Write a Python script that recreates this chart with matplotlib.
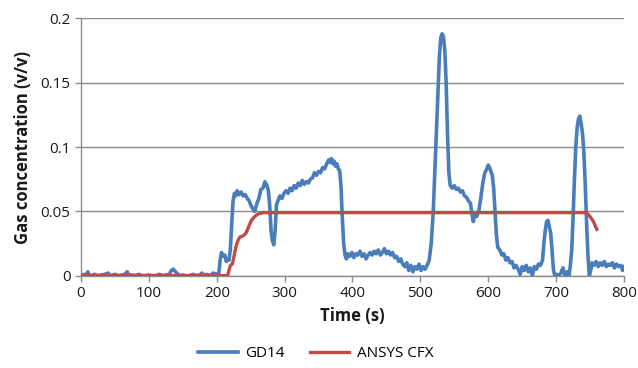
import matplotlib.pyplot as plt
from matplotlib.ticker import FuncFormatter

gd14_t = [
    0, 5, 8, 10, 12, 15, 20, 25, 30, 35, 40, 42, 45, 50, 55, 60, 65, 68, 70, 72,
    75, 80, 85, 90, 95, 100, 105, 110, 115, 120, 125, 130, 133, 136, 139, 142,
    145, 150, 155, 160, 165, 170, 175, 178, 181, 185, 190, 195, 200,
    203, 205, 207, 209, 212, 214, 216, 218, 220, 222, 224, 226, 228, 230, 233,
    236, 239, 242, 245, 248, 250, 253, 256, 259, 262, 265, 268, 271, 274, 276,
    278, 280, 282, 284, 286, 288, 290, 293, 296, 299, 302, 305, 308, 311, 314,
    317, 320, 323, 326, 329, 332, 335, 338, 341, 344, 347, 350, 353, 356, 359,
    362, 365, 367, 369, 371, 373, 375, 377, 379, 381, 383, 385, 387, 389, 391,
    393, 396, 399, 402, 405, 408, 411, 414, 417, 420, 423, 426, 429, 432, 435,
    438, 441, 444, 447, 450, 453, 456, 459, 462, 465, 468, 471, 474, 477, 480,
    483, 486, 489, 492, 495, 498, 501, 504, 507, 510, 513, 516, 519, 522, 525,
    528, 530, 532, 534, 536, 538, 540, 542, 544, 547, 550, 553, 556, 559, 562,
    565, 568, 571, 574, 576, 578, 580, 583, 586, 589, 592, 595, 598, 600, 602,
    604, 606, 608, 610, 612, 614, 617, 620, 623, 626, 629, 632, 635, 638, 641,
    644, 647, 650, 653, 656, 659, 662, 665, 668, 671, 674, 677, 680, 682, 684,
    686, 688, 690, 692, 694, 696, 698, 701, 704, 707, 710, 713, 716, 719, 721,
    723, 725, 727, 729, 731, 733, 735, 737, 739, 741, 743, 745, 747, 749, 751,
    753, 756, 759, 762, 765, 768, 771, 774, 777, 780, 783, 786, 789, 792, 795,
    798, 800,
]
gd14_v = [
    0, 0.001, 0.0005, 0.003, 0.0005, 0, 0.001, 0, 0.0005, 0.001, 0.002, 0.0005,
    0, 0.001, 0, 0.0005, 0.001, 0.003, 0.001, 0, 0.0005, 0, 0.001, 0, 0, 0.0005,
    0, 0, 0.001, 0, 0.0005, 0.001, 0.004, 0.005, 0.003, 0.0015, 0, 0.0005, 0, 0,
    0.001, 0, 0.0005, 0.002, 0.0005, 0.001, 0, 0.002, 0.001,
    0.002, 0.012, 0.018, 0.015, 0.016, 0.011, 0.013, 0.012, 0.02, 0.04, 0.058,
    0.064, 0.062, 0.066, 0.063, 0.065, 0.062, 0.063, 0.06, 0.058, 0.055, 0.052,
    0.05, 0.056, 0.06, 0.067, 0.068, 0.073, 0.07, 0.066, 0.055, 0.035, 0.027,
    0.024, 0.035, 0.055, 0.058, 0.062, 0.06, 0.064, 0.066, 0.064, 0.068, 0.066,
    0.07, 0.068, 0.072, 0.07, 0.074, 0.071, 0.073, 0.072, 0.075, 0.076, 0.08,
    0.078, 0.081, 0.08, 0.084, 0.083, 0.087, 0.09, 0.088, 0.091, 0.087, 0.089,
    0.085, 0.087, 0.083, 0.082, 0.07, 0.045, 0.025, 0.016, 0.013, 0.017, 0.015,
    0.018, 0.014, 0.017, 0.016, 0.019, 0.015, 0.017, 0.013, 0.016, 0.018, 0.016,
    0.019, 0.017, 0.02, 0.016, 0.018, 0.021, 0.017, 0.019, 0.016, 0.018, 0.014,
    0.015, 0.011, 0.013, 0.009, 0.007, 0.01, 0.004, 0.008, 0.003, 0.007, 0.005,
    0.009, 0.004, 0.007, 0.005, 0.008, 0.012, 0.025, 0.05, 0.09, 0.13, 0.17,
    0.185, 0.188, 0.186, 0.175, 0.15, 0.11, 0.08, 0.07, 0.068, 0.07, 0.067,
    0.068, 0.065, 0.066, 0.062, 0.061, 0.058, 0.056, 0.048, 0.042, 0.047, 0.046,
    0.05, 0.06, 0.072, 0.08, 0.083, 0.086, 0.084, 0.081, 0.078, 0.068, 0.05,
    0.032, 0.022, 0.02, 0.016, 0.017, 0.012, 0.014, 0.01, 0.011, 0.006, 0.008,
    0.005, 0.001, 0.007, 0.004, 0.008, 0.003, 0.006, 0.0, 0.007, 0.005, 0.009,
    0.008, 0.012, 0.025, 0.035, 0.042, 0.043, 0.038, 0.033, 0.02, 0.005, 0.0,
    0.001, 0.0, 0.002, 0.006, 0.0, 0.003, 0.0, 0.008, 0.02, 0.045, 0.075, 0.1,
    0.115, 0.122, 0.124, 0.118, 0.11, 0.095, 0.07, 0.04, 0.015, 0.0, 0.004,
    0.01, 0.008, 0.011, 0.007, 0.01, 0.008, 0.011, 0.007, 0.009, 0.008, 0.01,
    0.006, 0.009, 0.007, 0.008, 0.004, 0.007,
]

# simulated concentration (ANSYS CFX)
cfx_t = [0, 216, 218, 220, 223, 225, 228, 231, 234, 239, 243, 247, 251, 256,
         261, 269, 745, 750, 755, 760]
cfx_v = [0, 0, 0.004, 0.008, 0.009, 0.014, 0.022, 0.027, 0.03, 0.031, 0.033,
         0.038, 0.043, 0.046, 0.048, 0.049, 0.049, 0.046, 0.042, 0.036]

x_ticks = [0, 100, 200, 300, 400, 500, 600, 700, 800]
y_ticks = [0, 0.05, 0.1, 0.15, 0.2]

blue = "#4A7EBB"
red = "#BE4B48"
grid_color = "#8C8C8C"

plt.rcParams["font.family"] = ["Open Sans", "DejaVu Sans"]

fig = plt.figure(figsize=(6.38, 3.68), dpi=100)
ax = fig.add_axes([0.127, 0.251, 0.851, 0.699])

ax.plot(gd14_t, gd14_v, color=blue, linewidth=2.6, label="GD14", zorder=3)
ax.plot(cfx_t, cfx_v, color=red, linewidth=2.4, label="ANSYS CFX", zorder=4)

ax.set_xlim(0, 800)
ax.set_ylim(0, 0.2)
ax.set_xticks(x_ticks)
ax.set_yticks(y_ticks)
ax.yaxis.set_major_formatter(FuncFormatter(lambda v, p: "0" if v == 0 else f"{v:g}"))

ax.yaxis.grid(True, color=grid_color, linewidth=1.0)
ax.set_axisbelow(True)
for side in ["top", "right"]:
    ax.spines[side].set_visible(False)
for side in ["left", "bottom"]:
    ax.spines[side].set_color(grid_color)
    ax.spines[side].set_linewidth(1.0)
ax.tick_params(axis="both", colors=grid_color, length=4, width=1.0,
               labelcolor="#1A1A1A", labelsize=11)

ax.set_xlabel("Time (s)", fontsize=12, fontweight="bold", color="#1A1A1A", labelpad=4)
ax.set_ylabel("Gas concentration (v/v)", fontsize=12, fontweight="bold",
              color="#1A1A1A", labelpad=6)

fig.legend(loc="lower center", bbox_to_anchor=(0.495, -0.018), ncol=2,
           frameon=False, fontsize=11, handlelength=2.6, columnspacing=1.6,
           handletextpad=0.5)

fig.savefig("out.png", dpi=100)
